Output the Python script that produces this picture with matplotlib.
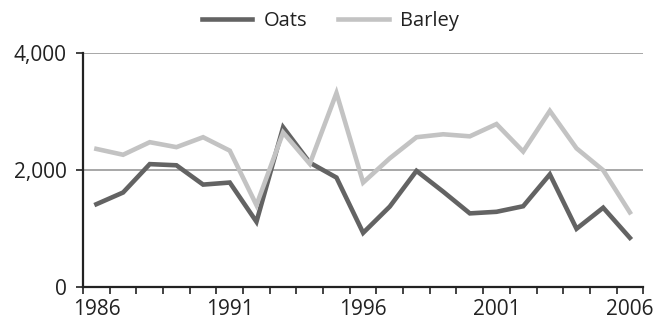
import matplotlib
matplotlib.use("Agg")
import matplotlib.pyplot as plt
from matplotlib.ticker import FuncFormatter, FixedLocator

years = list(range(1986, 2007))
oats = [1415, 1615, 2100, 2080, 1750, 1785, 1115, 2730, 2125, 1870, 925, 1375, 1985,
        1630, 1258, 1285, 1380, 1925, 995, 1355, 840]
barley = [2360, 2260, 2475, 2390, 2560, 2330, 1400, 2640, 2105, 3315, 1785, 2200, 2560,
          2610, 2575, 2785, 2315, 3010, 2370, 1995, 1275]
xticklabels = [1986, 1991, 1996, 2001, 2006]
yticks = [0, 2000, 4000]

plt.rcParams['font.family'] = ['Open Sans', 'DejaVu Sans']

fig = plt.figure(figsize=(6.7, 3.21), dpi=100)
ax = fig.add_axes([0.124, 0.106, 0.836, 0.729])

ax.plot(years, oats, color='#636363', lw=3.3, label='Oats', solid_joinstyle='miter')
ax.plot(years, barley, color='#c3c3c3', lw=3.3, label='Barley', solid_joinstyle='miter')

ax.set_xlim(years[0] - 0.5, years[-1] + 0.5)
ax.set_ylim(0, 4000)
ax.set_yticks(yticks)
ax.yaxis.set_major_formatter(FuncFormatter(lambda v, p: f"{int(v):,}"))
ax.set_xticks(xticklabels)
ax.xaxis.set_minor_locator(FixedLocator([y - 0.5 for y in years] + [years[-1] + 0.5]))
ax.tick_params(axis='x', which='major', length=0, labelsize=15, pad=9, labelcolor='#222222')
ax.tick_params(axis='x', which='minor', length=5, width=1.2, direction='out', color='#222222')
ax.tick_params(axis='y', which='major', length=5, width=1.2, labelsize=15, color='#222222',
               pad=7, labelcolor='#222222')

for y in yticks[1:]:
    ax.axhline(y, color='#a0a0a0', lw=1.3, zorder=0)

for s in ['top', 'right']:
    ax.spines[s].set_visible(False)
for s in ['left', 'bottom']:
    ax.spines[s].set_color('#222222')
    ax.spines[s].set_linewidth(1.6)

leg = fig.legend(loc='center', bbox_to_anchor=(0.493, 0.935), ncol=2, frameon=False,
                 fontsize=14.5, handlelength=2.5, columnspacing=1.55, handletextpad=0.55,
                 labelcolor='#222222')

fig.savefig('out.png', dpi=100)
